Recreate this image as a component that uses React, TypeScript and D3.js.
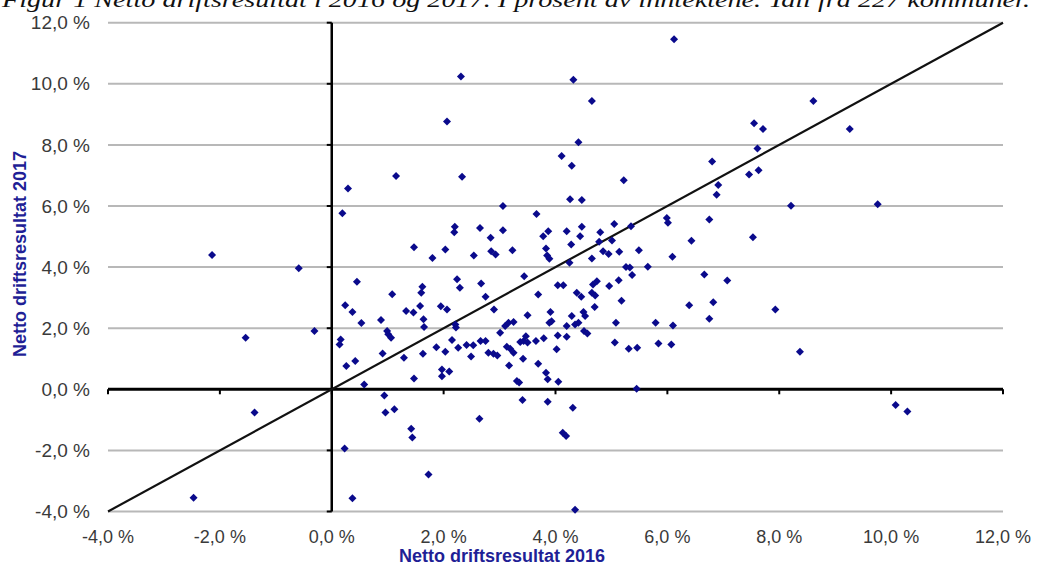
import * as d3 from "d3";

// Netto driftsresultat (% av inntektene) per kommune
const netto2016 = [
  -2.14, -0.59, 0.29, 1.15, 0.19, 1.47, 0.45, 1.8,
  6.12, 2.31, 4.32, 4.65, 2.06, 4.41, 4.11, 4.29, 6.8, 2.33, 5.22, 6.91, 6.88, 4.26, 4.47, 3.06, 3.66,
  5.99, 6.01, 6.75, 5.05, 5.35, 2.2, 2.19, 2.65, 3.06, 2.84, 3.87, 3.78, 4.2, 4.47, 4.44, 4.8, 4.28,
  4.78, 5.01, 3.83, 3.85, 3.89, 2.03, 2.54, 2.85, 2.93, 3.23, 4.85, 4.95, 5.14, 5.49, 4.65, 4.25, 6.09,
  6.43, 5.65, 5.26, 5.33, 5.37, 6.66, 7.07, 3.44, 2.24,
  1.62, 1.6, 2.29, 2.67, 2.75, 3.69, 4.04, 4.14, 4.38, 4.46, 4.67, 4.74, 4.65, 4.71, 4.96, 5.13, 5.18,
  4.7, 6.39, 6.82, 6.75, 1.58, 1.64, 1.65, 1.95, 2.06, 2.21, 2.22, 2.9, 3.5, 3.91, 3.89, 3.93, 4.29,
  4.2, 4.35, 4.41, 4.5, 4.53, 4.51, 4.57, 5.08, 5.79, 6.1, 3.01, 3.1, 3.16, 3.25, 3.37, 3.43, 3.47,
  3.5, 3.65, 3.79, 4.04, 4.2, 1.63, 1.87, 2.03, 2.15, 2.26, 2.41, 2.53, 2.66, 2.75, 2.49, 2.8, 2.89,
  2.96, 3.13, 3.19, 3.25, 3.42, 3.17, 3.69, 4.02, 5.06, 5.31, 5.46, 5.84, 6.07, 1.97, 1.97, 2.1, 3.31,
  3.35, 3.83, 3.86, 4.05, 5.45, 3.41, 3.86, 4.31, 2.64, 4.13, 4.19, 1.73, 4.35,
  1.08, 0.24, 0.37, 0.53, 0.88, 1.33, 1.46, 0.99, 1.01, 1.06, -0.31, -1.54, 0.16, 0.14, 0.91, 1.29,
  0.26, 0.42, 1.47, 0.58, 0.94, -1.38, 0.96, 1.12, 1.42, 1.44, 0.23, -2.47, 0.37,
  8.61, 7.55, 7.71, 9.26, 7.61, 7.46, 7.63, 8.21, 9.76, 7.53,
  7.93, 8.37, 10.08, 10.29,
];

const netto2017 = [
  4.4, 3.96, 6.57, 6.98, 5.76, 4.65, 3.52, 4.3,
  11.46, 10.24, 10.13, 9.44, 8.77, 8.09, 7.64, 7.32, 7.46, 6.96, 6.84, 6.69, 6.37, 6.22, 6.2, 6.0, 5.74,
  5.61, 5.45, 5.56, 5.41, 5.34, 5.32, 5.14, 5.28, 5.21, 4.96, 5.17, 5.01, 5.17, 5.32, 5.01, 5.14, 4.74,
  4.83, 4.87, 4.61, 4.38, 4.27, 4.58, 4.38, 4.52, 4.41, 4.55, 4.52, 4.43, 4.5, 4.55, 4.28, 4.14, 4.34,
  4.86, 4.01, 4.0, 3.99, 3.74, 3.76, 3.56, 3.7, 3.6,
  3.36, 3.16, 3.32, 3.46, 3.03, 3.1, 3.41, 3.41, 3.16, 3.03, 3.43, 3.54, 3.16, 3.07, 3.38, 3.57, 2.9,
  2.69, 2.75, 2.85, 2.31, 2.73, 2.29, 2.04, 2.72, 2.61, 2.12, 2.02, 2.61, 2.42, 2.53, 2.18, 2.23, 2.4,
  2.07, 2.12, 2.18, 2.53, 2.4, 1.91, 1.83, 2.18, 2.18, 2.09, 1.85, 2.07, 2.18, 2.2, 1.55, 1.58, 1.74,
  1.53, 1.58, 1.67, 1.76, 1.72, 1.16, 1.38, 1.23, 1.61, 1.36, 1.45, 1.44, 1.58, 1.58, 1.07, 1.2, 1.16,
  1.11, 1.39, 1.33, 1.2, 1.0, 0.78, 0.84, 1.31, 1.53, 1.33, 1.36, 1.5, 1.47, 0.65, 0.43, 0.58, 0.27,
  0.22, 0.54, 0.33, 0.25, 0.02, -0.35, -0.41, -0.6, -0.96, -1.42, -1.53, -2.79, -3.94,
  3.11, 2.75, 2.53, 2.17, 2.27, 2.56, 2.51, 1.91, 1.8, 1.69, 1.91, 1.69, 1.63, 1.47, 1.17, 1.03,
  0.76, 0.93, 0.35, 0.16, -0.2, -0.76, -0.76, -0.65, -1.29, -1.58, -1.94, -3.55, -3.57,
  9.44, 8.71, 8.52, 8.52, 7.88, 7.03, 7.17, 6.01, 6.06, 4.98,
  2.61, 1.23, -0.51, -0.73,
];

const ticks = [-4, -2, 0, 2, 4, 6, 8, 10, 12];
const title =
  "Figur 1 Netto driftsresultat i 2016 og 2017. I prosent av inntektene. Tall fra 227 kommuner.";

const W = 1037;
const H = 567;

const fmt = (v: number) => v.toFixed(1).replace(".", ",") + " %";

export default function App() {
  const x = d3.scaleLinear().domain([-4, 12]).range([108, 1003]);
  const y = d3.scaleLinear().domain([-4, 12]).range([511.5, 22.7]);
  const diamond = d3.symbol().type(d3.symbolSquare).size(32)();
  const pts = netto2016.map((v, i) => [v, netto2017[i]]);
  const font = "Liberation Sans, Arial, sans-serif";

  return (
    <svg
      width={W}
      height={H}
      style={{ position: "absolute", left: 0, top: 0, background: "#fff" }}
    >
      {/* figure caption, cropped at the top like in the source */}
      <text
        x={2}
        y={7}
        fontFamily="Liberation Serif, Times New Roman, serif"
        fontStyle="italic"
        fontSize={22}
        textLength={1028}
        lengthAdjust="spacingAndGlyphs"
        fill="#111"
      >
        {title}
      </text>

      {/* horizontal gridlines */}
      {ticks
        .filter((t) => t !== 0)
        .map((t) => (
          <line
            key={"g" + t}
            x1={x(-4)}
            x2={x(12)}
            y1={y(t)}
            y2={y(t)}
            stroke="#b8b8b8"
            strokeWidth={2}
          />
        ))}

      {/* x axis at 0 */}
      <line x1={x(-4)} x2={x(12)} y1={y(0)} y2={y(0)} stroke="#000" strokeWidth={3} />
      {ticks.map((t) => (
        <line key={"xt" + t} x1={x(t)} x2={x(t)} y1={y(0)} y2={y(0) + 5} stroke="#000" strokeWidth={2} />
      ))}

      {/* y axis at 0 */}
      <line x1={x(0)} x2={x(0)} y1={y(-4)} y2={y(12)} stroke="#000" strokeWidth={2.5} />
      {ticks.map((t) => (
        <line key={"yt" + t} x1={x(0) - 5} x2={x(0)} y1={y(t)} y2={y(t)} stroke="#000" strokeWidth={2} />
      ))}

      {/* diagonal y = x */}
      <line x1={x(-4)} y1={y(-4)} x2={x(12)} y2={y(12)} stroke="#111" strokeWidth={2.2} />

      {pts.map(([a, b], i) => (
        <path
          key={i}
          d={diamond}
          transform={`translate(${x(a)},${y(b)}) rotate(45)`}
          fill="#0a0a8c"
        />
      ))}

      {/* tick labels */}
      {ticks.map((t) => (
        <text
          key={"yl" + t}
          x={90}
          y={y(t)}
          dy="0.35em"
          textAnchor="end"
          fontFamily={font}
          fontSize={19}
          fill="#3a3a3a"
        >
          {fmt(t)}
        </text>
      ))}
      {ticks.map((t) => (
        <text
          key={"xl" + t}
          x={x(t)}
          y={543}
          textAnchor="middle"
          fontFamily={font}
          fontSize={18}
          fill="#3a3a3a"
        >
          {fmt(t)}
        </text>
      ))}

      {/* axis titles */}
      <text
        x={502}
        y={562}
        textAnchor="middle"
        fontFamily={font}
        fontWeight="bold"
        fontSize={18}
        fill="#1f1f96"
      >
        Netto driftsresultat 2016
      </text>
      <text
        transform={`translate(26,254) rotate(-90)`}
        textAnchor="middle"
        fontFamily={font}
        fontWeight="bold"
        fontSize={18}
        fill="#1f1f96"
      >
        Netto driftsresultat 2017
      </text>
    </svg>
  );
}
